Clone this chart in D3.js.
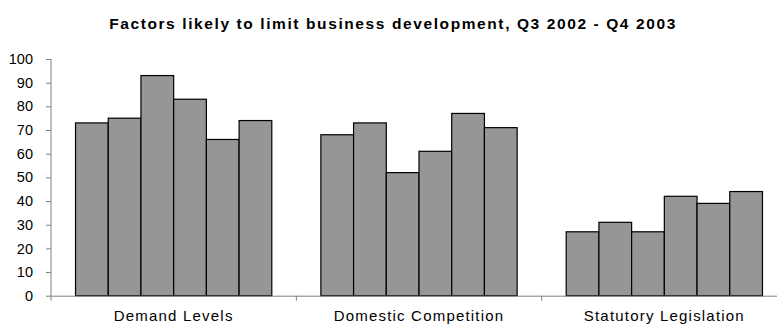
<!DOCTYPE html>
<html>
<head>
<meta charset="utf-8">
<script src="https://cdn.jsdelivr.net/npm/d3@7"></script>
<style>
  body { margin: 0; background: #fff; }
  text { font-family: "Liberation Sans", Arial, sans-serif; }
</style>
</head>
<body>
<div id="chart"></div>
<script>
const categories = ["Demand Levels", "Domestic Competition", "Statutory Legislation"];
const quarters = ["Q3 2002", "Q4 2002", "Q1 2003", "Q2 2003", "Q3 2003", "Q4 2003"];
const demandLevels = [73, 75, 93, 83, 66, 74];
const domesticCompetition = [68, 73, 52, 61, 77, 71];
const statutoryLegislation = [27, 31, 27, 42, 39, 44];
const yTicks = [0, 10, 20, 30, 40, 50, 60, 70, 80, 90, 100];

const seriesByCategory = [demandLevels, domesticCompetition, statutoryLegislation];

let w = 777, h = 325;

let svg = d3.select("#chart")
    .append("svg")
    .attr("width", w)
    .attr("height", h);

let x0 = d3.scaleBand().domain(categories).range([51, 787]).paddingInner(0).paddingOuter(0);
let y = d3.scaleLinear().domain([0, 100]).range([295.7, 59]);

// title
svg.append("text")
    .attr("x", 393)
    .attr("y", 29)
    .attr("text-anchor", "middle")
    .style("font-weight", "bold")
    .style("font-size", "15.5px")
    .style("letter-spacing", "1.6px")
    .text("Factors likely to limit business development, Q3 2002 - Q4 2003");

// bars
let groupW = x0.bandwidth() * 0.8;
let x1 = d3.scaleBand().domain(quarters).range([0, groupW]).padding(0);

let groups = svg.append("g").selectAll("g")
    .data(categories)
    .enter().append("g")
    .attr("transform", d => "translate(" + (x0(d) + (x0.bandwidth() - groupW) / 2) + ",0)");

groups.selectAll("rect")
    .data((d, i) => seriesByCategory[i].map((v, j) => ({q: quarters[j], v: v})))
    .enter().append("rect")
    .attr("x", d => x1(d.q))
    .attr("y", d => y(d.v))
    .attr("width", x1.bandwidth())
    .attr("height", d => y(0) - y(d.v))
    .attr("fill", "#969696")
    .attr("stroke", "#000")
    .attr("stroke-width", 1.2);

// y axis
let yAxis = svg.append("g")
    .attr("transform", "translate(51,0)")
    .call(d3.axisLeft(y).tickValues(yTicks).tickSize(5).tickPadding(13));
yAxis.select(".domain").attr("stroke", "#808080").attr("d", "M0," + y(100) + "V" + (y(0) + 5));
yAxis.selectAll(".tick line").attr("stroke", "#808080");
yAxis.selectAll(".tick text")
    .style("font-size", "14.5px")
    .attr("fill", "#000");

// x axis (labels kept just inside the bottom edge)
let xAxis = svg.append("g")
    .attr("transform", "translate(0," + y(0) + ")")
    .call(d3.axisBottom(x0).tickSize(0).tickPadding(15));
xAxis.select(".domain").attr("stroke", "#808080");
xAxis.selectAll(".tick text")
    .style("font-size", "15px")
    .style("letter-spacing", "1.2px")
    .attr("fill", "#000");
// category separator ticks
xAxis.selectAll("line.sep")
    .data(categories.slice(1))
    .enter().append("line")
    .attr("class", "sep")
    .attr("x1", d => x0(d)).attr("x2", d => x0(d))
    .attr("y1", 0).attr("y2", 5)
    .attr("stroke", "#808080");
</script>
</body>
</html>
